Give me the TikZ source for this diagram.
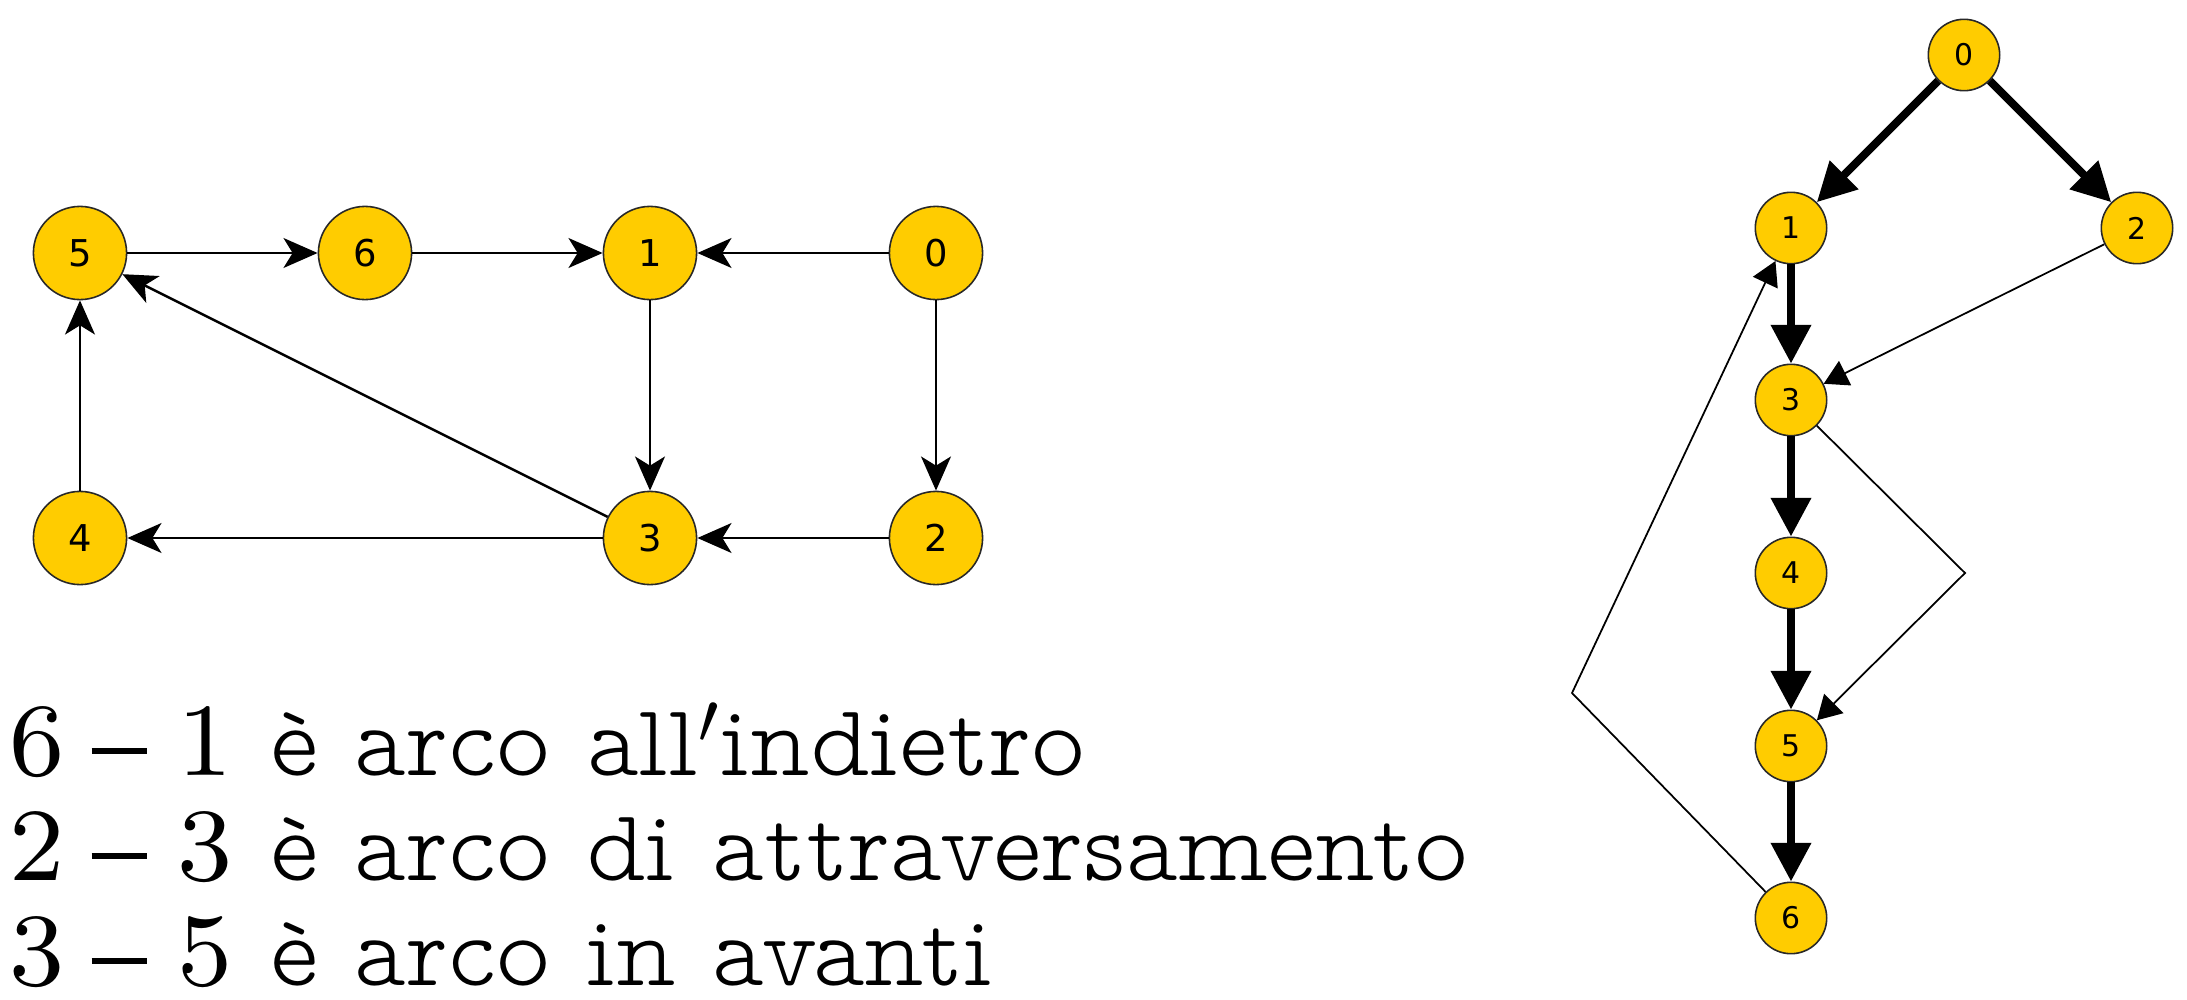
\documentclass[tikz,border=0pt]{standalone}
\usepackage{fontspec}
\newfontfamily\labelfont{DejaVu Sans}
\newfontfamily\numfont{lmroman8-regular}[Extension=.otf]
\newfontfamily\wordfont{lmmonoproplt10-regular}[Extension=.otf]
\usetikzlibrary{arrows.meta}
\definecolor{vtxfill}{RGB}{255,204,0}
\definecolor{vtxline}{RGB}{40,40,40}
\newcommand\numpart{\numfont\fontsize{29.5}{30}\selectfont}
\newcommand\wordpart{\wordfont\fontsize{29.2}{30}\selectfont}
% "a - b" with a heavy dash between the two vertex numbers
\newcommand\edgepair[2]{\numpart #1\hspace{7.6pt}\rule[6.1pt]{15.9pt}{1.7pt}\hspace{8.6pt}#2\hspace{0.36em}}
\tikzset{
  x=0.01cm, y=-0.01cm,
  vtx/.style={circle, draw=vtxline, line width=0.45pt, fill=vtxfill, inner sep=0pt},
  bigvtx/.style={vtx, minimum size=26.5pt, font=\labelfont\fontsize{10.5}{12}\selectfont},
  smallvtx/.style={vtx, minimum size=20.3pt, font=\labelfont\fontsize{8.5}{10}\selectfont},
  plainedge/.style={line width=0.7pt, -{Stealth[length=9.7pt,width=8.5pt,inset=2.6pt]}},
  treeedge/.style={line width=2.3pt, -{Triangle[length=11pt,width=11pt]}},
  otheredge/.style={line width=0.5pt, -{Triangle[length=6.8pt,width=7.7pt]}},
  caption/.style={anchor=base west, inner sep=0pt, text depth=0pt},
}
\begin{document}
\begin{tikzpicture}
\useasboundingbox (0,0) rectangle (2187,1000);

% directed graph
\node[bigvtx] (L5) at (80,253) {5};
\node[bigvtx] (L6) at (365,253) {6};
\node[bigvtx] (L1) at (650,253) {1};
\node[bigvtx] (L0) at (936,253) {0};
\node[bigvtx] (L4) at (80,538) {4};
\node[bigvtx] (L3) at (650,538) {3};
\node[bigvtx] (L2) at (936,538) {2};

\draw[plainedge] (L5) -- (L6);
\draw[plainedge] (L6) -- (L1);
\draw[plainedge] (L0) -- (L1);
\draw[plainedge] (L1) -- (L3);
\draw[plainedge] (L0) -- (L2);
\draw[plainedge] (L2) -- (L3);
\draw[plainedge] (L3) -- (L4);
\draw[plainedge] (L4) -- (L5);
\draw[plainedge] (L3) -- (L5);

% edge classification
\node[caption] (t1) at (9,775) {\edgepair{6}{1}\wordpart è arco all$'$indietro};
\node[caption] (t2) at (9,880) {\edgepair{2}{3}\wordpart è arco di attraversamento};
\node[caption] (t3) at (9,985) {\edgepair{3}{5}\wordpart è arco in avanti};

% depth-first visit tree
\node[smallvtx] (R0) at (1964,55) {0};
\node[smallvtx] (R1) at (1791,228) {1};
\node[smallvtx] (R2) at (2137,228) {2};
\node[smallvtx] (R3) at (1791,400) {3};
\node[smallvtx] (R4) at (1791,573) {4};
\node[smallvtx] (R5) at (1791,746) {5};
\node[smallvtx] (R6) at (1791,918) {6};
\coordinate (b35) at (1965,573);
\coordinate (b61) at (1572,693);

\draw[treeedge] (R0) -- (R1);
\draw[treeedge] (R0) -- (R2);
\draw[treeedge] (R1) -- (R3);
\draw[treeedge] (R3) -- (R4);
\draw[treeedge] (R4) -- (R5);
\draw[treeedge] (R5) -- (R6);
\draw[otheredge] (R2) -- (R3);
\draw[otheredge] (R3) -- (b35) -- (R5);
\draw[otheredge] (R6) -- (b61) -- (R1);
\end{tikzpicture}
\end{document}
